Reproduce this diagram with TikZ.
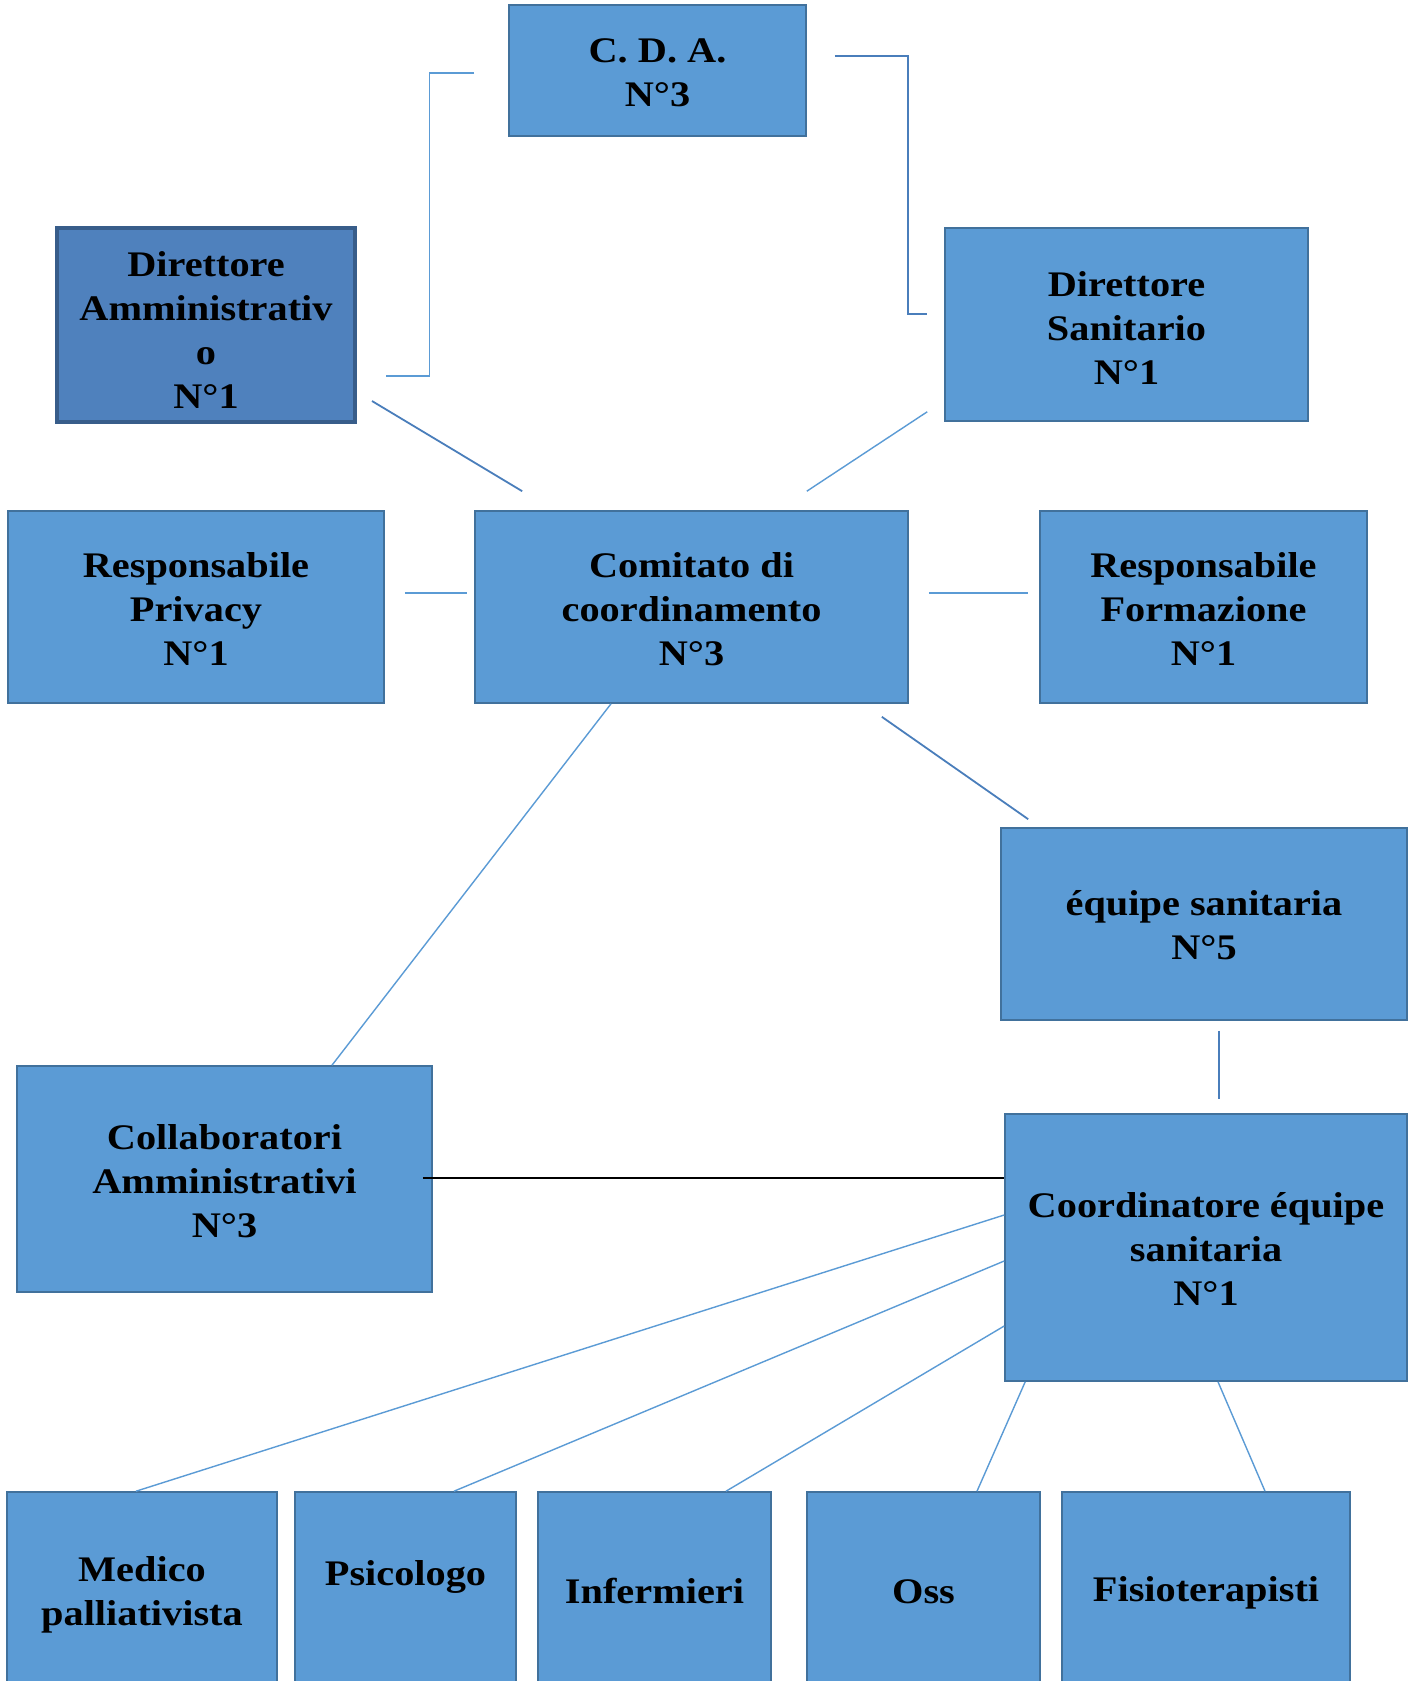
\documentclass[tikz,border=0pt]{standalone}
\usepackage{fontspec}
\setmainfont{Liberation Serif}[FakeStretch=1.12]
\definecolor{boxfill}{HTML}{5B9BD5}
\definecolor{boxline}{HTML}{41719C}
\definecolor{ammfill}{HTML}{4F81BD}
\definecolor{ammline}{HTML}{385D8A}
\definecolor{clight}{HTML}{5B9BD5}
\definecolor{cdark}{HTML}{4A7EBB}
\newcommand\tup[1]{\rule{0pt}{#1pt}}
\tikzset{
  box/.style={rectangle, fill=boxfill, draw=boxline, line width=1.6pt, align=center,
    inner sep=0pt, text=black, font=\fontsize{36}{44}\selectfont\bfseries},
  ammbox/.style={box, fill=ammfill, draw=ammline, line width=4pt},
  lightline/.style={draw=clight, line width=1.4pt},
  darkline/.style={draw=cdark, line width=1.8pt},
  blackline/.style={draw=black, line width=1.6pt},
}
\begin{document}
\begin{tikzpicture}[x=1pt,y=-1pt]
\useasboundingbox (0,0) rectangle (1409,1681);
\fill[white] (0,0) rectangle (1409,1681);

\node[box, minimum width=297, minimum height=131] (cda) at (657.5,70.5) {\tup{29}C. D. A.\\N°3};
\node[ammbox, minimum width=298, minimum height=194] (diramm) at (206,325) {\tup{35}Direttore\\Amministrativ\\o\\N°1};
\node[box, minimum width=363, minimum height=193] (dirsan) at (1126.5,324.5) {\tup{31}Direttore\\Sanitario\\N°1};
\node[box, minimum width=376, minimum height=192] (privacy) at (196,607) {\tup{29}Responsabile\\Privacy\\N°1};
\node[box, minimum width=433, minimum height=192] (comitato) at (691.5,607) {\tup{29}Comitato di\\coordinamento\\N°3};
\node[box, minimum width=327, minimum height=192] (formazione) at (1203.5,607) {\tup{29}Responsabile\\Formazione\\N°1};
\node[box, minimum width=406, minimum height=192] (equipe) at (1204,924) {\tup{27}équipe sanitaria\\N°5};
\node[box, minimum width=415, minimum height=226] (collab) at (224.5,1179) {\tup{29}Collaboratori\\Amministrativi\\N°3};
\node[box, minimum width=402, minimum height=267] (coord) at (1206,1247.5) {\tup{27}Coordinatore équipe\\sanitaria\\N°1};

\node[box, minimum width=270, minimum height=196] (medico) at (142,1590) {\tup{35}Medico\\palliativista};
\node[box, minimum width=221, minimum height=196] (psicologo) at (405.5,1590) {\tup{35}Psicologo\\\mbox{}};
\node[box, minimum width=233, minimum height=196] (infermieri) at (654.5,1590) {\tup{27}Infermieri};
\node[box, minimum width=233, minimum height=196] (oss) at (923.5,1590) {\tup{27}Oss};
\node[box, minimum width=288, minimum height=196] (fisio) at (1206,1590) {\tup{31}Fisioterapisti};

% connectors
\draw[lightline] ([shift={(-34,2.5)}]cda.west) -- ++(-45,0) |- ([shift={(29,51)}]diramm.east);
\draw[darkline] ([shift={(28,-14.5)}]cda.east) -- ++(73,0) |- ([shift={(-17,-10.5)}]dirsan.west);
\draw[darkline] ([shift={(15,-23)}]diramm.south east) -- ([shift={(48,-19)}]comitato.north west);
\draw[lightline] ([shift={(-17,-10)}]dirsan.south west) -- ([shift={(-102,-19)}]comitato.north east);
\draw[lightline] ([shift={(20,-14)}]privacy.east) -- ([shift={(-7,-14)}]comitato.west);
\draw[lightline] ([shift={(20,-14)}]comitato.east) -- ([shift={(-11,-14)}]formazione.west);
\draw[lightline] ([shift={(-80.5,0)}]comitato.south) -- ([shift={(107.5,0)}]collab.north);
\draw[darkline] ([shift={(-27,13)}]comitato.south east) -- ([shift={(28,-8)}]equipe.north west);
\draw[darkline] ([shift={(15,10)}]equipe.south) -- ([shift={(13,-14)}]coord.north);
\draw[blackline] ([shift={(-10,-1)}]collab.east) -- ([shift={(0,-69.5)}]coord.west);
\draw[lightline] ([shift={(0,-32.5)}]coord.west) -- ([shift={(-6,0)}]medico.north);
\draw[lightline] ([shift={(0,13.5)}]coord.west) -- ([shift={(48.5,0)}]psicologo.north);
\draw[lightline] ([shift={(0,78.5)}]coord.west) -- ([shift={(71.5,0)}]infermieri.north);
\draw[lightline] ([shift={(21,0)}]coord.south west) -- ([shift={(53.5,0)}]oss.north);
\draw[lightline] ([shift={(12,0)}]coord.south) -- ([shift={(59,0)}]fisio.north);
\end{tikzpicture}
\end{document}
